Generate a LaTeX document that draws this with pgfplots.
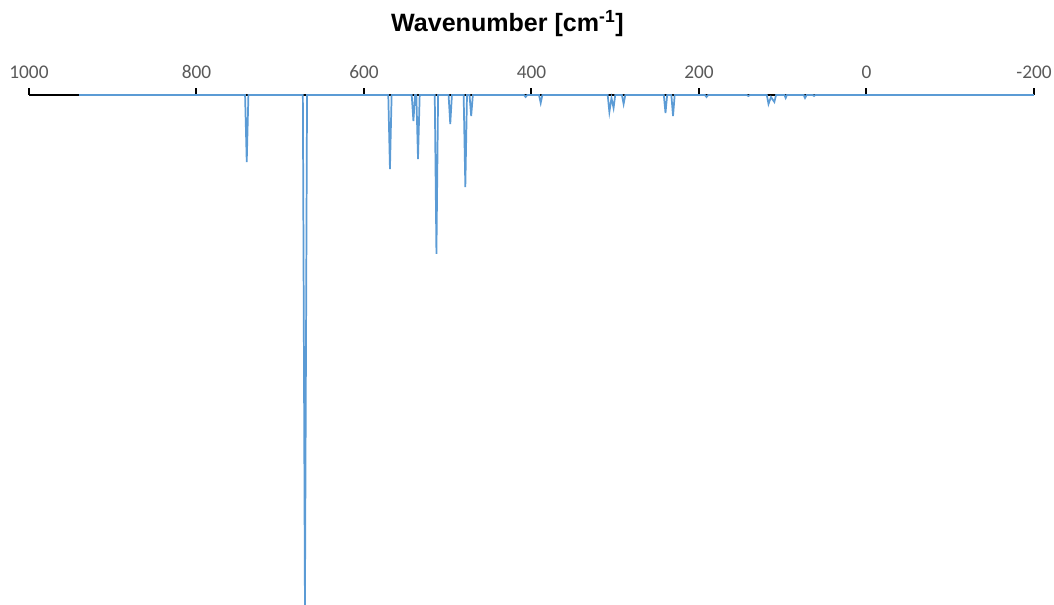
\documentclass[border=0pt]{standalone}
\usepackage{fontspec}
\setmainfont{Liberation Sans}
\newfontfamily\tickfont{Carlito}
\usepackage{pgfplots}
\pgfplotsset{compat=1.18}
\definecolor{specblue}{HTML}{5B9BD5}
\definecolor{tickgray}{HTML}{595959}
\begin{document}
\begin{tikzpicture}
\begin{axis}[
  name=ax,
  scale only axis,
  width=753.75pt, height=382.5pt,
  x dir=reverse,
  xmin=-200, xmax=1000,
  ymin=-510, ymax=0,
  axis x line*=top,
  hide y axis,
  clip=false,
  xtick={1000,800,600,400,200,0,-200},
  xticklabels={1000,800,600,400,200,0,-200},
  tick align=outside,
  major tick length=5pt,
  x axis line style={black, line width=1.6pt},
  xtick style={black, line width=1.5pt},
  xticklabel style={font=\tickfont\fontsize{14.5}{16}\selectfont, text=tickgray, yshift=4pt},
  xlabel={\bfseries Wavenumber [cm\textsuperscript{-1}]},
  xlabel style={font=\fontsize{18.8}{22}\selectfont, xshift=-18pt, yshift=14.5pt},
]
\addplot[color=specblue, line width=1.3pt] coordinates {
(940,0)
(742,0)(740,-67)(738,0)
(673,0)(670.5,-510)(668,0)
(571,0)(569,-74)(567,0)
(543,0)(541,-26)(539,0)
(537.5,0)(535.5,-64)(533.5,0)
(515.5,0)(513.5,-159)(511.5,0)
(499,0)(497,-29)(495,0)
(481,0)(479,-92)(477,0)
(474,0)(472,-21)(470,0)
(409,0)(407,-2)(405,0)
(391,0)(389,-8)(387,0)
(309,0)(307,-17)(304.5,-3)(302,-13)(300,0)
(292,0)(290,-9)(288,0)
(242,0)(240,-18)(238,0)
(233,0)(231,-21)(229,0)
(193,0)(191,-2)(189,0)
(143,0)(141,-1)(139,0)
(119,0)(117,-9)(114,-2)(110,-7)(108,0)
(98,0)(96.5,-3)(95,0)
(75,0)(73.4,-3)(71.5,0)
(64,0)(62.7,-1)(61,0)
(-200,0)
};
\end{axis}
\pgfresetboundingbox
\path[use as bounding box] (ax.south west) ++(-21.75pt,0) rectangle ++(790.5pt,453.75pt);
\end{tikzpicture}
\end{document}
